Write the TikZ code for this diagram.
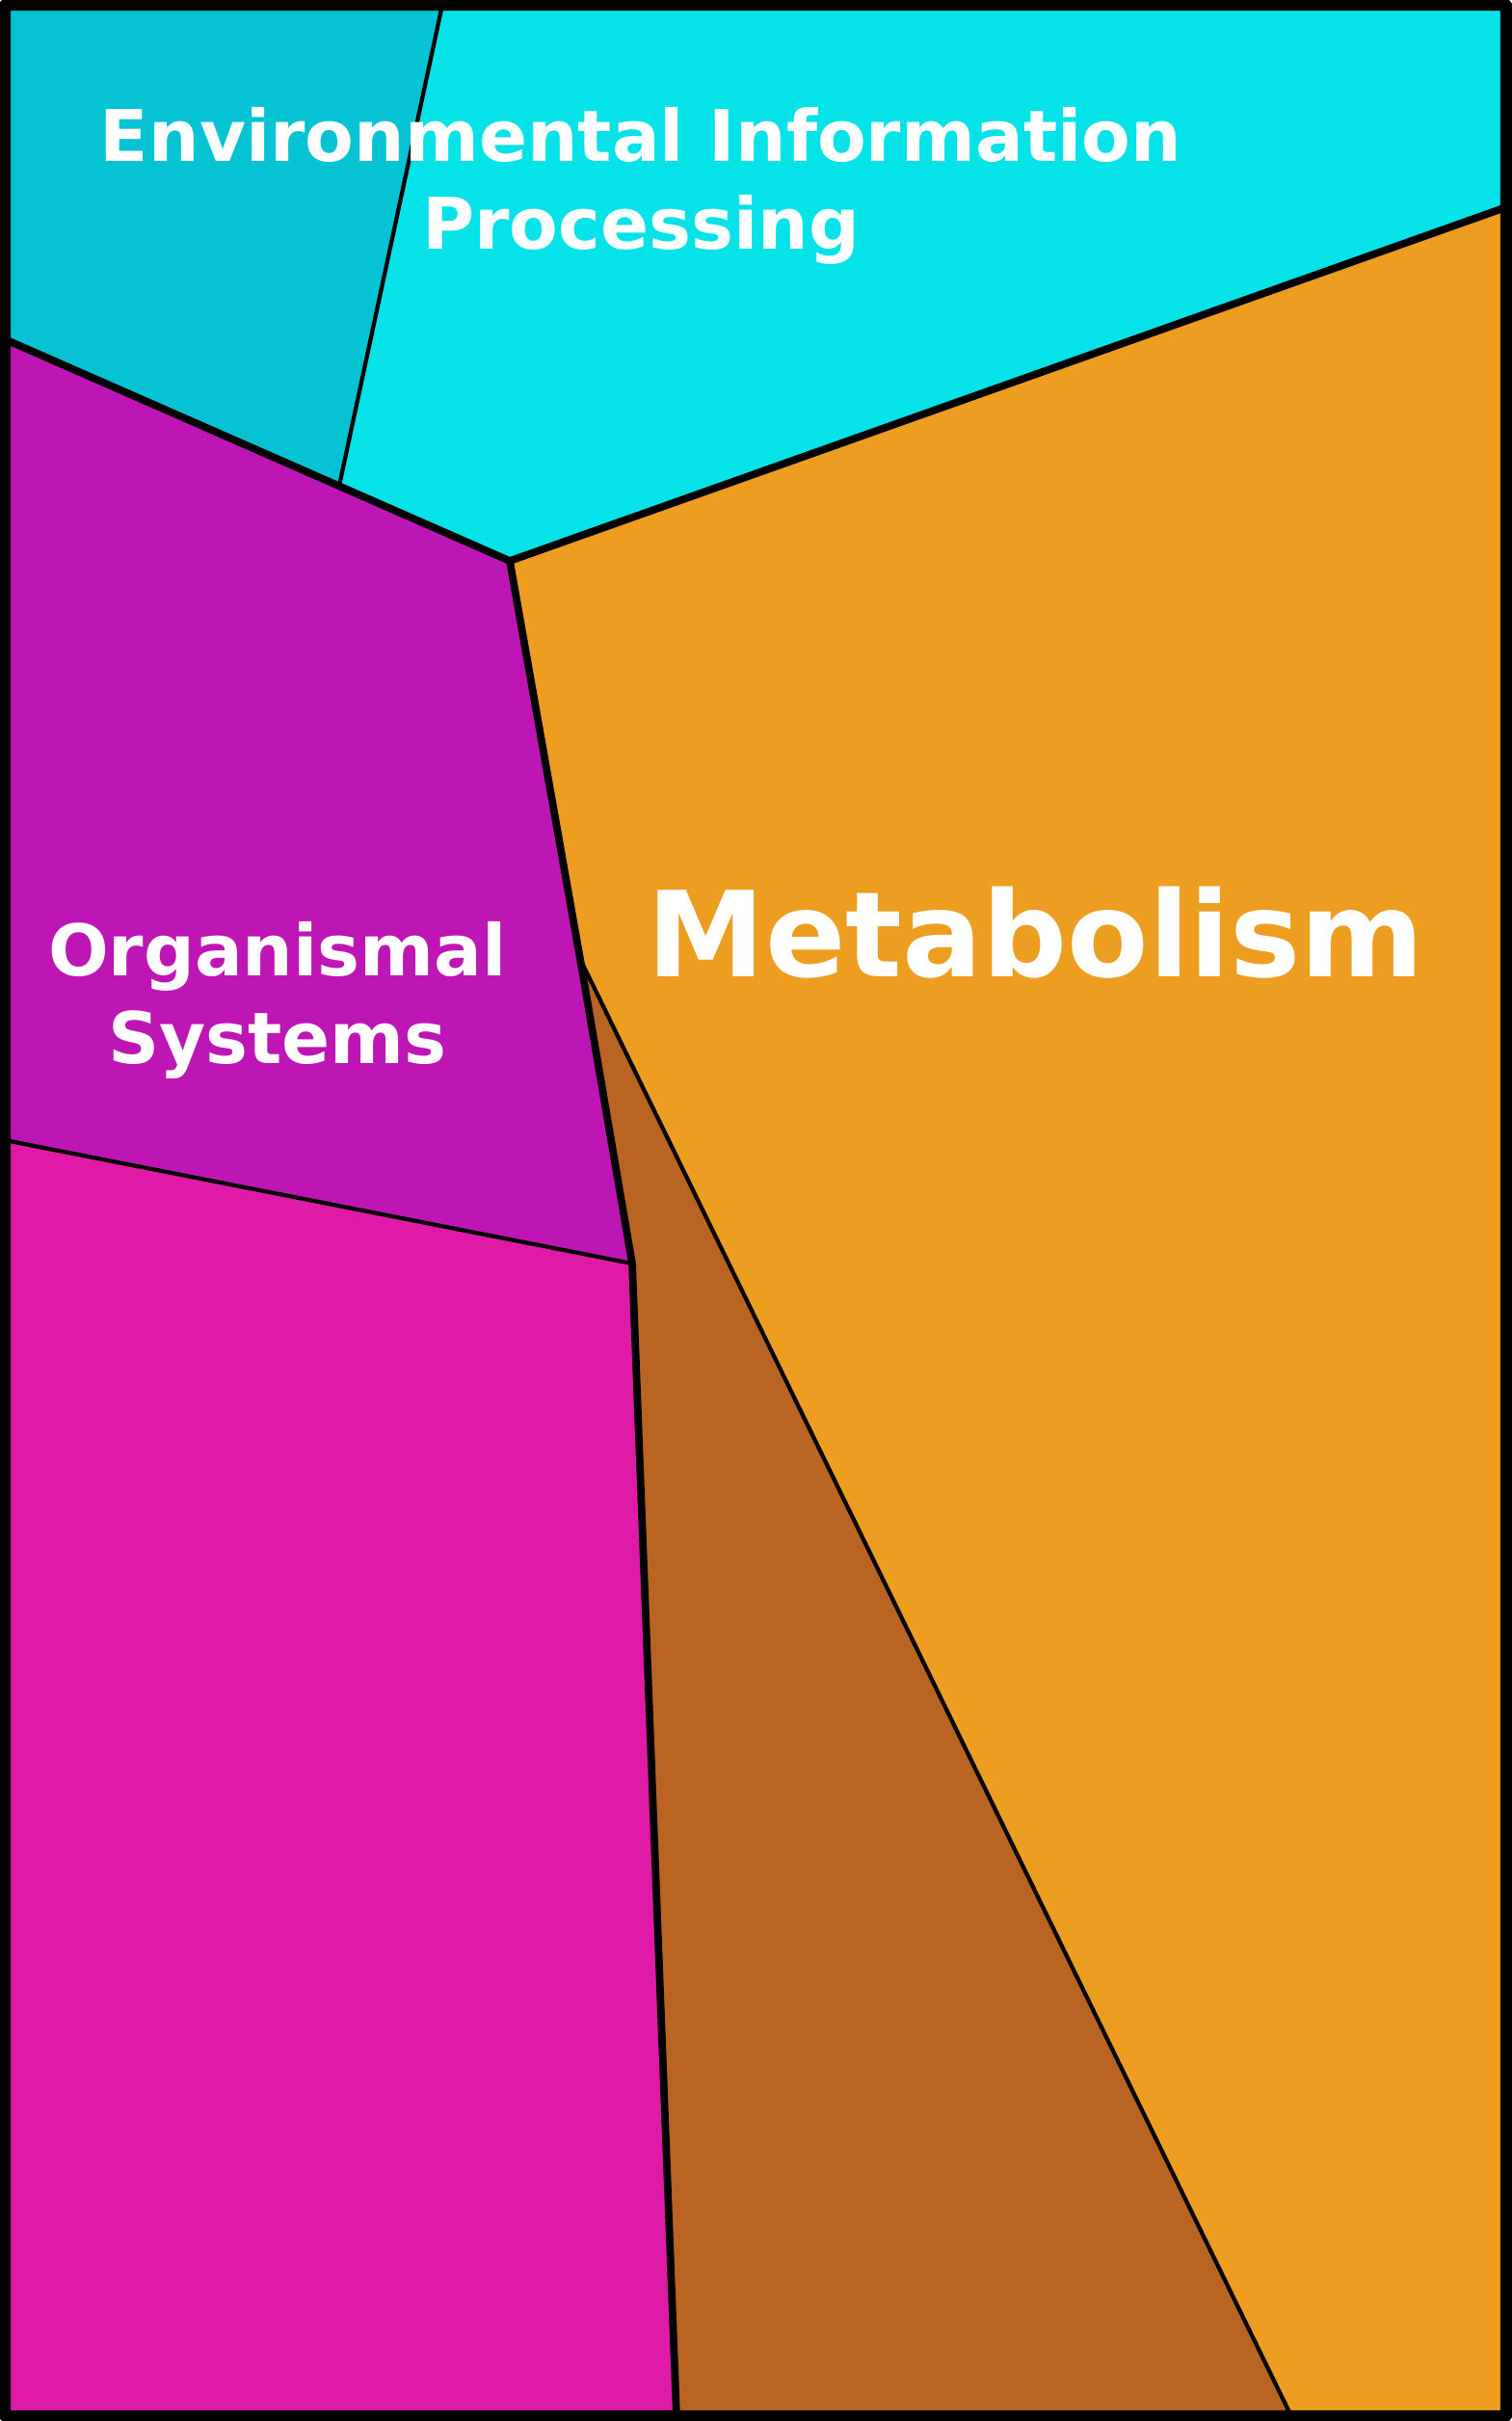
\documentclass[tikz,border=0pt]{standalone}
\usepackage{fontspec}
\setmainfont{DejaVu Sans}
\usetikzlibrary{positioning}
\definecolor{envdark}{HTML}{06C3D3}
\definecolor{envlight}{HTML}{05E2E8}
\definecolor{orgpurple}{HTML}{BE16B4}
\definecolor{orgpink}{HTML}{DF1AA6}
\definecolor{metorange}{HTML}{ED9D1F}
\definecolor{metbrown}{HTML}{B96423}

\begin{document}
\begin{tikzpicture}[x=0.01cm,y=-0.01cm,
    label/.style={text=white, font=\bfseries, align=center, inner sep=0pt}]
    \useasboundingbox (0,0) rectangle (1568,2512);
    % Junction points
    \coordinate (hub) at (529,582);
    \coordinate (jbrown) at (602,995);
    \coordinate (jpink) at (656,1311);
    \coordinate (jbottom) at (702,2507);
    % Regions
    \fill[envdark] (5,5) -- (459,5) -- (352,504) -- (5,352) -- cycle;
    \fill[envlight] (459,5) -- (1563,5) -- (1563,215) -- (hub) -- (352,504) -- cycle;
    \fill[orgpurple] (5,352) -- (hub) -- (jbrown) -- (jpink) -- (5,1183) -- cycle;
    \fill[orgpink] (5,1183) -- (jpink) -- (jbottom) -- (5,2507) -- cycle;
    \fill[metorange] (hub) -- (1563,215) -- (1563,2507) -- (1340,2507) -- (jbrown) -- cycle;
    \fill[metbrown] (jbrown) -- (1340,2507) -- (jbottom) -- (jpink) -- cycle;
    
    % Borders
    \draw[line width=1.2pt] (459,5) -- (352,504);
    \draw[line width=1.2pt] (5,1183) -- (jpink);
    \draw[line width=1.2pt] (jbrown) -- (1340,2507);
    \draw[line width=2.2pt] (5,352) -- (hub) -- (1563,215);
    \draw[line width=2.2pt] (hub) -- (jbrown) -- (jpink) -- (jbottom);
    \draw[line width=4pt, rounded corners=2pt] (4,4) rectangle (1564,2508);
    
    % Labels
    \node[label, font=\fontsize{21}{26}\selectfont\bfseries] (env) at (665,193) {Environmental Information\\Processing};
    \node[label, font=\fontsize{21}{26}\selectfont\bfseries] (org) at (288,1038) {Organismal\\Systems};
    \node[label, font=\fontsize{35}{42}\selectfont\bfseries] (met) at (1075,968) {Metabolism};
\end{tikzpicture}
\end{document}
